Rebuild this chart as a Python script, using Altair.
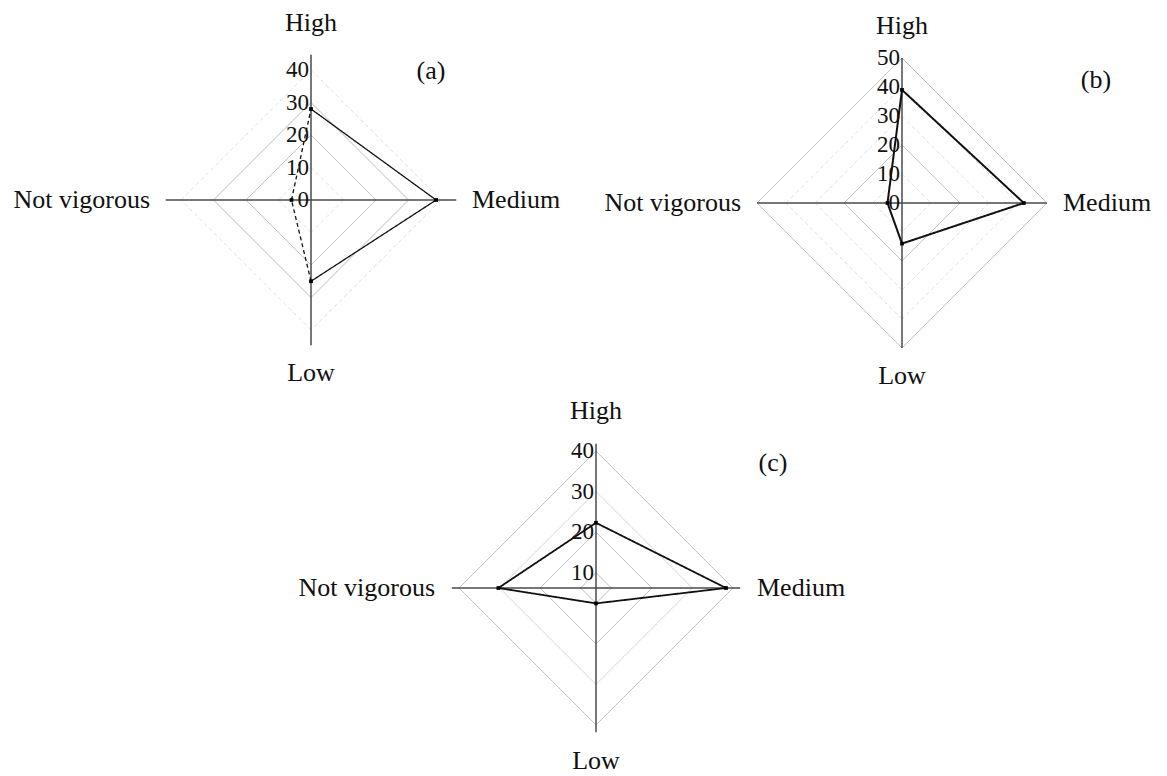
import altair as alt
import pandas as pd

# ---- values ---------------------------------------------------------------
categories = ["High", "Medium", "Low", "Not vigorous"]
panels = ["a", "b", "c"]
panel_tags = ["(a)", "(b)", "(c)"]

values_a = [28, 38.5, 25, 6]
values_b = [39, 42, 14, 5]
values_c = [22.3, 38.3, 10, 30.3]

ticks_a = [0, 10, 20, 30, 40]
ticks_b = [0, 10, 20, 30, 40, 50]
ticks_c = [10, 20, 30, 40]

rings_a = [10, 20, 30, 40]
rings_b = [10, 20, 30, 40, 50]
rings_c = [10, 20, 30, 40]

# ---- layout / style -------------------------------------------------------
W, H = 1167, 776
FONT = "Liberation Serif"

layout = {
    "a": dict(cx=311, cy=200, k=3.25, v0=0, reach=44.7, tag=(431, 71), lw=1.3,
              ring_style=["faint", "grid", "grid", "faint"]),
    "b": dict(cx=902, cy=203, k=2.9, v0=0, reach=50.0, tag=(1096, 80), lw=2.0,
              ring_style=["faint", "grid", "faint", "faint", "grid"]),
    "c": dict(cx=596, cy=588, k=4.05, v0=6.2, reach=41.8, tag=(773, 463), lw=1.8,
              ring_style=["grid", "grid", "light", "grid"]),
}
dashed_edges = {"a": {("Low", "Not vigorous"), ("Not vigorous", "High")}}
ring_colors = {"grid": "#b4b4b4", "light": "#d2d2d2", "faint": "#e2e2e2"}
ring_dash = {"grid": "solid", "light": "solid", "faint": "dash"}

# unit direction of each spoke on screen (y grows downward)
direction = {"High": (0, -1), "Medium": (1, 0), "Low": (0, 1), "Not vigorous": (-1, 0)}
label_off = {"High": (0, -177), "Medium": (161, 0), "Low": (0, 173), "Not vigorous": (-161, 0)}
label_align = {"High": "center", "Medium": "left", "Low": "center", "Not vigorous": "right"}

series = {"a": values_a, "b": values_b, "c": values_c}
ticks = {"a": ticks_a, "b": ticks_b, "c": ticks_c}
rings = {"a": rings_a, "b": rings_b, "c": rings_c}

# ---- tables ---------------------------------------------------------------
def base(p):
    L = layout[p]
    return dict(panel=p, cx=L["cx"], cy=L["cy"], k=L["k"], v0=L["v0"])

poly_edges, poly_pts, ring_edges, spokes, tick_rows, cat_rows, tag_rows = [], [], [], [], [], [], []
for p, tag in zip(panels, panel_tags):
    L = layout[p]
    vals = series[p]
    for i, c in enumerate(categories):
        j = (i + 1) % len(categories)
        c2 = categories[j]
        ux1, uy1 = direction[c]
        ux2, uy2 = direction[c2]
        style = "dash" if (c, c2) in dashed_edges.get(p, set()) else "solid"
        poly_edges.append(dict(base(p), v1=vals[i], ux1=ux1, uy1=uy1,
                               v2=vals[j], ux2=ux2, uy2=uy2, dash=style, lw=L["lw"]))
        poly_pts.append(dict(base(p), category=c, v1=vals[i], ux1=ux1, uy1=uy1))
        for r, st in zip(rings[p], L["ring_style"]):
            ring_edges.append(dict(base(p), v1=r, ux1=ux1, uy1=uy1, v2=r, ux2=ux2, uy2=uy2,
                                   color=ring_colors[st], dash=ring_dash[st]))
        spokes.append(dict(base(p), v1=L["v0"], ux1=ux1, uy1=uy1,
                           v2=L["reach"], ux2=ux1, uy2=uy1))
        ox, oy = label_off[c]
        cat_rows.append(dict(base(p), text=c, ox=ox, oy=oy, align=label_align[c]))
    for t in ticks[p]:
        tick_rows.append(dict(base(p), v1=t, ux1=0, uy1=-1, text=str(t)))
    tag_rows.append(dict(panel=p, text=tag, tx=L["tag"][0], ty=L["tag"][1]))

xs = alt.Scale(domain=[0, W], nice=False, zero=False)
ys = alt.Scale(domain=[0, H], nice=False, zero=False, reverse=True)

P1X = "datum.cx + (datum.v1 - datum.v0) * datum.k * datum.ux1"
P1Y = "datum.cy + (datum.v1 - datum.v0) * datum.k * datum.uy1"
P2X = "datum.cx + (datum.v2 - datum.v0) * datum.k * datum.ux2"
P2Y = "datum.cy + (datum.v2 - datum.v0) * datum.k * datum.uy2"

dash_scale = alt.Scale(domain=["solid", "dash"], range=[[1, 0], [4, 3]])


def seg_chart(df):
    return alt.Chart(pd.DataFrame(df)).transform_calculate(
        x1=P1X, y1=P1Y, x2=P2X, y2=P2Y
    )


rings_layer = seg_chart(ring_edges).mark_rule(strokeWidth=1).encode(
    x=alt.X("x1:Q", scale=xs, axis=None),
    y=alt.Y("y1:Q", scale=ys, axis=None),
    x2="x2:Q", y2="y2:Q",
    color=alt.Color("color:N", scale=None),
    strokeDash=alt.StrokeDash("dash:N", scale=dash_scale, legend=None),
)

spoke_layer = seg_chart(spokes).mark_rule(strokeWidth=1.5, color="#4a4a4a").encode(
    x=alt.X("x1:Q", scale=xs, axis=None),
    y=alt.Y("y1:Q", scale=ys, axis=None),
    x2="x2:Q", y2="y2:Q",
)

poly_layer = seg_chart(poly_edges).mark_rule(color="#111111").encode(
    x=alt.X("x1:Q", scale=xs, axis=None),
    y=alt.Y("y1:Q", scale=ys, axis=None),
    x2="x2:Q", y2="y2:Q",
    strokeWidth=alt.StrokeWidth("lw:Q", scale=None),
    strokeDash=alt.StrokeDash("dash:N", scale=dash_scale, legend=None),
)

point_layer = alt.Chart(pd.DataFrame(poly_pts)).transform_calculate(
    x1=P1X, y1=P1Y
).mark_square(size=14, color="#000000", opacity=1).encode(
    x=alt.X("x1:Q", scale=xs, axis=None),
    y=alt.Y("y1:Q", scale=ys, axis=None),
)

tick_layer = alt.Chart(pd.DataFrame(tick_rows)).transform_calculate(
    x1=P1X, y1=P1Y
).mark_text(align="right", baseline="middle", dx=-2, font=FONT, fontSize=23,
            color="#111111").encode(
    x=alt.X("x1:Q", scale=xs, axis=None),
    y=alt.Y("y1:Q", scale=ys, axis=None),
    text="text:N",
)

cat_df = pd.DataFrame(cat_rows)
cat_layers = []
for al in ["left", "center", "right"]:
    cat_layers.append(
        alt.Chart(cat_df).transform_filter(alt.datum.align == al).transform_calculate(
            lx="datum.cx + datum.ox", ly="datum.cy + datum.oy"
        ).mark_text(align=al, baseline="middle", font=FONT, fontSize=26,
                    color="#111111").encode(
            x=alt.X("lx:Q", scale=xs, axis=None),
            y=alt.Y("ly:Q", scale=ys, axis=None),
            text="text:N",
        )
    )

tag_layer = alt.Chart(pd.DataFrame(tag_rows)).mark_text(
    align="center", baseline="middle", font=FONT, fontSize=26, color="#111111"
).encode(
    x=alt.X("tx:Q", scale=xs, axis=None),
    y=alt.Y("ty:Q", scale=ys, axis=None),
    text="text:N",
)

chart = alt.layer(
    rings_layer, spoke_layer, poly_layer, point_layer, tick_layer, *cat_layers, tag_layer
).properties(
    width=W, height=H, padding=0, autosize=alt.AutoSizeParams(type="none"),
    background="white",
).configure_view(stroke=None)

chart.save("out.html", embed_options={"renderer": "svg", "actions": False})
